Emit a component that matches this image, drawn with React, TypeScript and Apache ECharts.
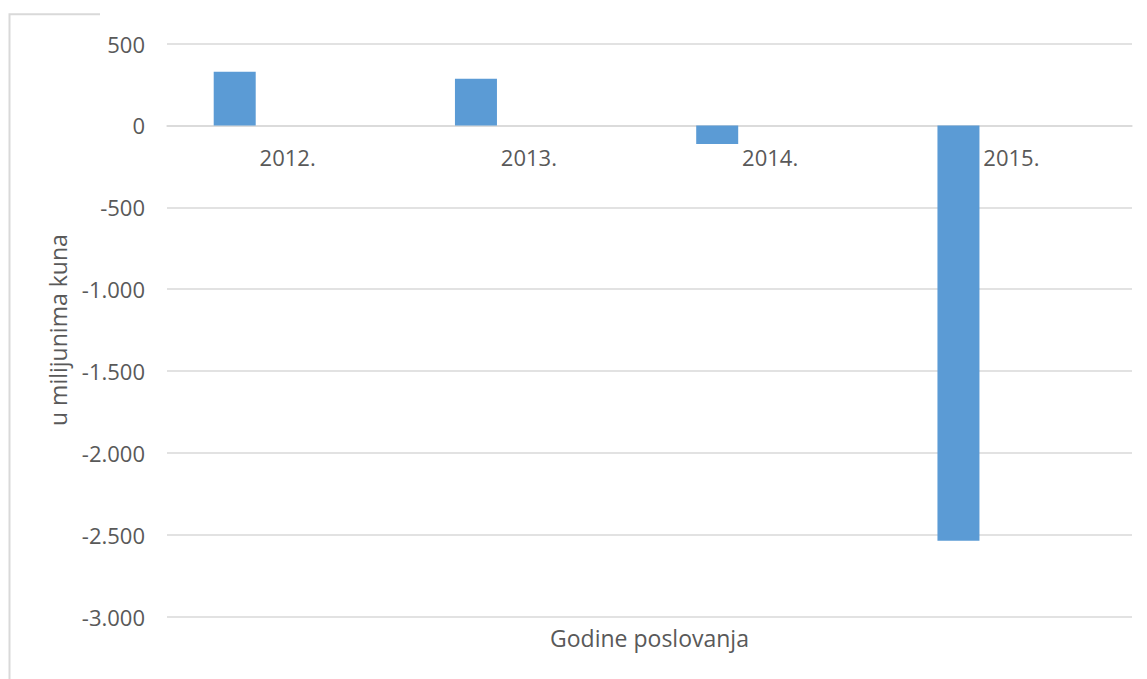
import React, { useEffect, useRef } from "react";
import * as echarts from "echarts";

const categories = ["2012.", "2013.", "2014.", "2015."];
const values = [327, 284, -113, -2537];
const emptySeries = [null, null, null, null];
const yTicks = { min: -3000, max: 500, interval: 500 };
const yTitle = "u milijunima kuna";
const xTitle = "Godine poslovanja";

const FONT = "'Open Sans', 'Noto Sans', sans-serif";
const TXT = "#595959";
const GRIDC = "#d9d9d9";

function fmt(v: number): string {
  const s = Math.abs(v).toString().replace(/\B(?=(\d{3})+(?!\d))/g, ".");
  return (v < 0 ? "-" : "") + s;
}

export default function App() {
  const ref = useRef<HTMLDivElement>(null);
  useEffect(() => {
    document.body.style.margin = "0";
    const chart = echarts.init(ref.current!, undefined, { renderer: "svg" });
    chart.setOption({
      animation: false,
      backgroundColor: "#fff",
      grid: { left: 167, right: 15, top: 43.5, bottom: 62.3 },
      xAxis: {
        type: "category",
        data: categories,
        position: "bottom",
        offset: -491.2,
        axisLine: { onZero: false, lineStyle: { color: GRIDC, width: 1.5 } },
        axisTick: { show: false },
        axisLabel: { color: TXT, fontSize: 22, fontFamily: FONT, margin: 20 },
      },
      yAxis: {
        type: "value",
        min: yTicks.min,
        max: yTicks.max,
        interval: yTicks.interval,
        name: yTitle,
        nameLocation: "middle",
        nameGap: 98,
        nameRotate: 90,
        nameTextStyle: { color: TXT, fontSize: 23, fontFamily: FONT },
        axisLine: { show: false },
        axisTick: { show: false },
        axisLabel: { color: TXT, fontSize: 22, fontFamily: FONT, margin: 22, formatter: (v: number) => fmt(v) },
        splitLine: { lineStyle: { color: GRIDC, width: 1.5 } },
      },
      series: [
        {
          type: "bar",
          data: values,
          barWidth: 42,
          barGap: "152%",
          itemStyle: { color: "#5B9BD5" },
        },
        {
          type: "bar",
          data: emptySeries,
          barWidth: 42,
          itemStyle: { color: "#ED7D31" },
        },
      ],
      graphic: [
        {
          type: "polyline",
          shape: { points: [[9.5, 679], [9.5, 14.3], [100, 14.3]] },
          style: { stroke: GRIDC, lineWidth: 2, fill: "none" },
          silent: true,
        },
        {
          type: "text",
          x: 649.5,
          y: 638,
          style: {
            text: xTitle,
            fill: TXT,
            font: `23px ${FONT}`,
            textAlign: "center",
            textVerticalAlign: "middle",
          },
        },
      ],
    });
    return () => chart.dispose();
  }, []);
  return <div ref={ref} style={{ width: 1147, height: 679 }} />;
}
